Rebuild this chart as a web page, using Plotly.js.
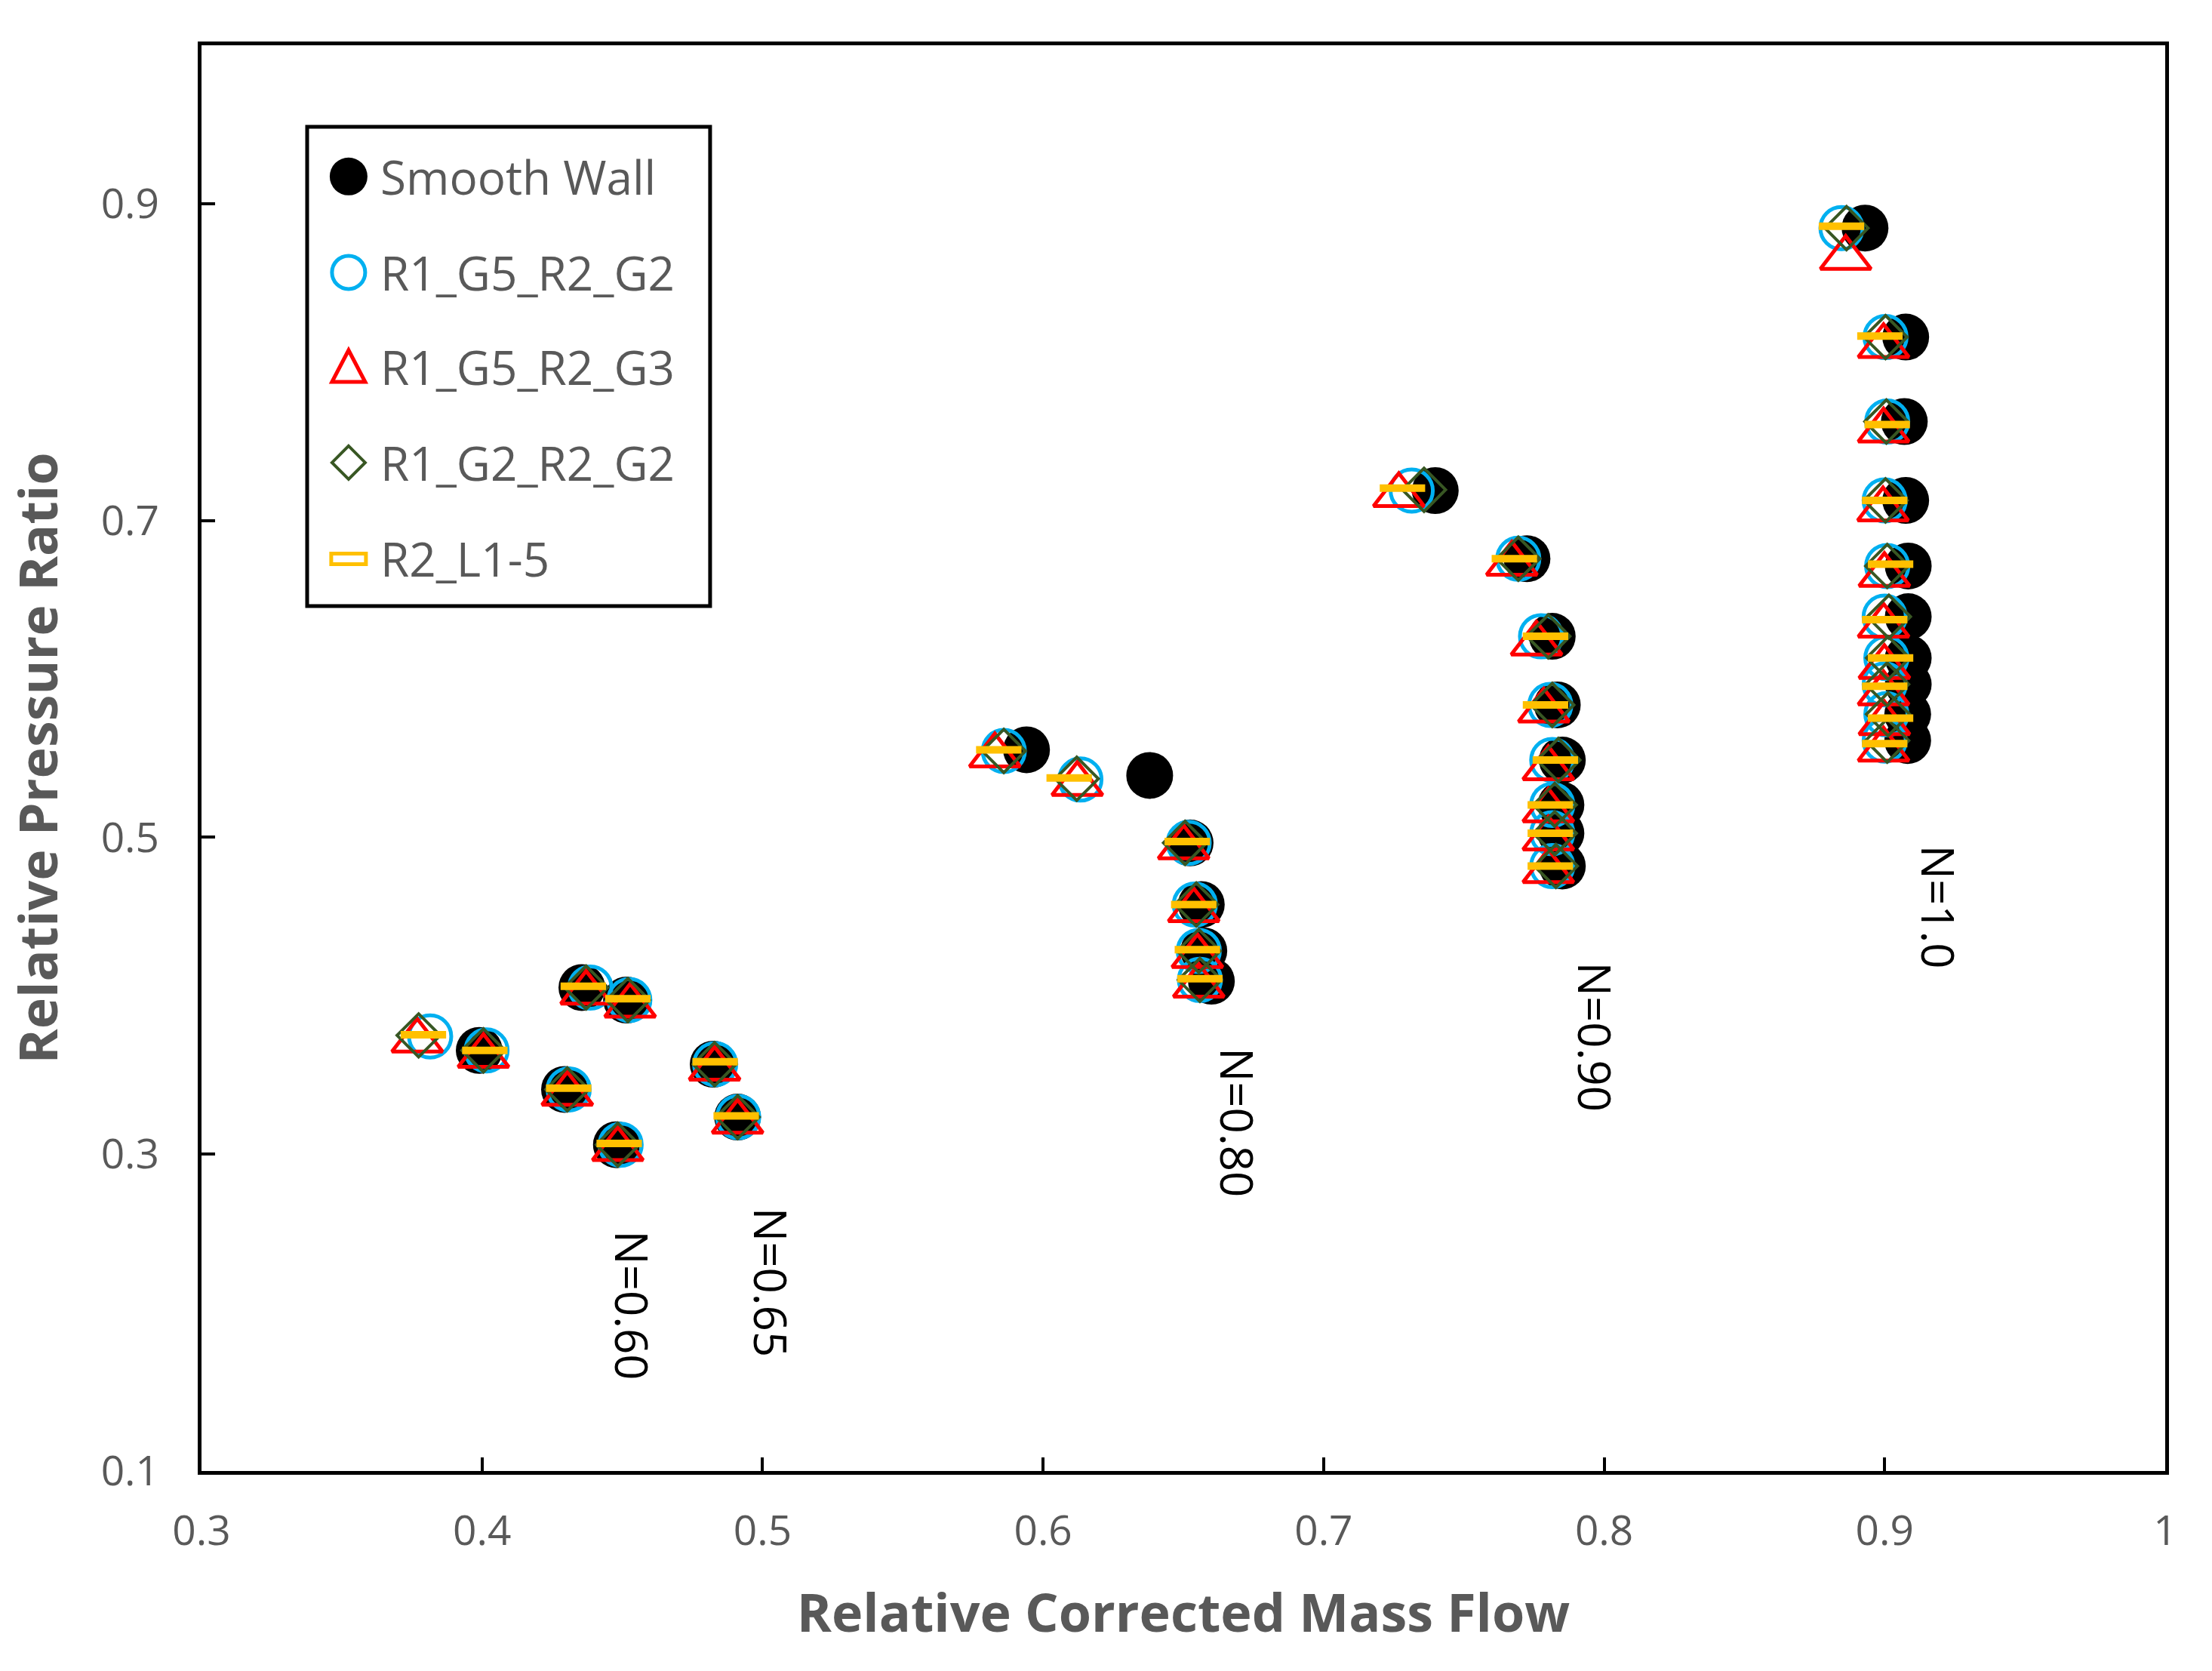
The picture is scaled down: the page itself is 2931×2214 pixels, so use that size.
<!DOCTYPE html>
<html>
<head>
<meta charset="utf-8">
<script src="https://cdn.plot.ly/plotly-3.0.1.min.js"></script>
<style>
  html, body { margin: 0; padding: 0; background: #fff; }
  #plot { width: 2931px; height: 2214px; }
</style>
</head>
<body>
<div id="plot"></div>
<script>
// series names, in drawing order (first one is at the bottom)
var seriesNames = ['Smooth Wall', 'R1_G5_R2_G2', 'R1_G5_R2_G3', 'R1_G2_R2_G2', 'R2_L1-5']

// Smooth Wall
var smoothX = [0.399, 0.4356, 0.4515, 0.4294, 0.4479, 0.4824, 0.4911,
  0.5941, 0.638, 0.6524, 0.6564, 0.6573, 0.660,
  0.7398, 0.7725, 0.7815, 0.7833, 0.7851, 0.7846, 0.7846, 0.7851,
  0.893, 0.9075, 0.907, 0.9075, 0.9084, 0.9084, 0.9084, 0.9084, 0.9082, 0.9082]
var smoothY = [0.3655, 0.4052, 0.3973, 0.3409, 0.306, 0.3568, 0.3234,
  0.5553, 0.5391, 0.4965, 0.4576, 0.4283, 0.4092,
  0.7189, 0.6759, 0.6269, 0.5836, 0.5488, 0.5205, 0.5026, 0.4819,
  0.8846, 0.8158, 0.7625, 0.7127, 0.6713, 0.6393, 0.6132, 0.5966, 0.5777, 0.5611]

// R1_G5_R2_G2
var g5g2X = [0.3815, 0.4016, 0.4386, 0.4525, 0.4309, 0.4494, 0.4831, 0.4913,
  0.586, 0.6133, 0.6519, 0.6541, 0.6555, 0.6559,
  0.7314, 0.7694, 0.7775, 0.7808, 0.7815, 0.7815, 0.7815, 0.7815,
  0.8846, 0.9003, 0.9009, 0.900, 0.9009, 0.900, 0.9006, 0.900, 0.9006, 0.900]
var g5g2Y = [0.3743, 0.3655, 0.4052, 0.3973, 0.3409, 0.306, 0.3568, 0.3234,
  0.5545, 0.5365, 0.4965, 0.4576, 0.4283, 0.410,
  0.7189, 0.6759, 0.6269, 0.5836, 0.5488, 0.5205, 0.5026, 0.4819,
  0.8846, 0.8158, 0.7625, 0.7127, 0.6713, 0.6393, 0.6132, 0.5966, 0.5777, 0.5611]

// R1_G5_R2_G3
var g5g3X = [0.3769, 0.4005, 0.4371, 0.4528, 0.4304, 0.4484, 0.4829, 0.4911,
  0.5828, 0.6122, 0.6501, 0.6537, 0.655, 0.6555,
  0.7268, 0.7671, 0.7759, 0.7785, 0.7801, 0.7801, 0.7801, 0.7801,
  0.8861, 0.8996, 0.8996, 0.8994, 0.8999, 0.8996, 0.8999, 0.8996, 0.8999, 0.8996]
var g5g3Y = [0.3717, 0.362, 0.4019, 0.3937, 0.3381, 0.3032, 0.354, 0.3205,
  0.5517, 0.5337, 0.4937, 0.454, 0.425, 0.4063,
  0.716, 0.6727, 0.6223, 0.580, 0.5436, 0.517, 0.4993, 0.4786,
  0.8658, 0.8101, 0.7568, 0.707, 0.6656, 0.6336, 0.6075, 0.5909, 0.572, 0.5554]

// R1_G2_R2_G2
var g2g2X = [0.3774, 0.4005, 0.4371, 0.452, 0.4304, 0.4484, 0.4829, 0.4911,
  0.586, 0.612, 0.6506, 0.6546, 0.6555, 0.6559,
  0.7358, 0.7694, 0.7801, 0.7815, 0.7837, 0.7824, 0.7824, 0.7828,
  0.8864, 0.9003, 0.9006, 0.9003, 0.9009, 0.9015, 0.9012, 0.9009, 0.9012, 0.9009]
var g2g2Y = [0.375, 0.3655, 0.4052, 0.3973, 0.3409, 0.306, 0.3568, 0.3234,
  0.5545, 0.537, 0.4965, 0.4576, 0.4283, 0.410,
  0.7194, 0.6759, 0.6269, 0.5836, 0.5488, 0.5205, 0.5026, 0.4819,
  0.8846, 0.8158, 0.7625, 0.7127, 0.6713, 0.6393, 0.6132, 0.5966, 0.5777, 0.5611]

// R2_L1-5
var l15X = [0.3791, 0.401, 0.4361, 0.452, 0.4309, 0.4489, 0.4831, 0.4906,
  0.5842, 0.6093, 0.6514, 0.6537, 0.655, 0.6559,
  0.7281, 0.768, 0.7791, 0.7791, 0.7826, 0.7808, 0.7808, 0.7808,
  0.8846, 0.8983, 0.9009, 0.900, 0.9021, 0.900, 0.9021, 0.900, 0.9021, 0.900]
var l15Y = [0.3754, 0.3655, 0.406, 0.3981, 0.3417, 0.3068, 0.3584, 0.3242,
  0.5553, 0.5375, 0.4973, 0.4576, 0.4291, 0.4108,
  0.7204, 0.6759, 0.6269, 0.5836, 0.5488, 0.5205, 0.5026, 0.4819,
  0.8858, 0.8165, 0.7606, 0.7127, 0.6725, 0.6374, 0.6132, 0.5954, 0.5753, 0.5592]

// speed line labels
var speedText = ['N=0.60', 'N=0.65', 'N=0.80', 'N=0.90', 'N=1.0']
var speedX = [0.4535, 0.5031, 0.6694, 0.7969, 0.9193]
var speedY = [0.2048, 0.2191, 0.320, 0.374, 0.456]

var FONT = 'Open Sans, Noto Sans, sans-serif'
var GREY = '#595959'
var BLUE = '#00B0F0', RED = '#FF0000', GREEN = '#385723', GOLD = '#FFC000'

try {
  var xData = [smoothX, g5g2X, g5g3X, g2g2X, l15X]
  var yData = [smoothY, g5g2Y, g5g3Y, g2g2Y, l15Y]
  var markers = [
    {symbol: 'circle', size: 62, color: '#000000', line: {width: 0}},
    {symbol: 'circle-open', size: 56, color: BLUE, line: {width: 5, color: BLUE}},
    {symbol: 'triangle-up-open', size: 58, color: RED, line: {width: 5, color: RED}},
    {symbol: 'diamond-open', size: 44, color: GREEN, line: {width: 4, color: GREEN}},
    {symbol: 'line-ew-open', size: 43, color: GOLD, line: {width: 10, color: GOLD}}
  ]

  var data = []
  for (var i = 0; i < seriesNames.length; i++) {
    data.push({
      x: xData[i],
      y: yData[i],
      name: seriesNames[i],
      type: 'scatter',
      mode: 'markers',
      marker: markers[i],
      showlegend: false,
      cliponaxis: false
    })
  }

  // hand made legend box, so the symbols keep their size
  var legX0 = 0.0538, legX1 = 0.259, legY0 = 0.6067, legY1 = 0.9428
  var rowY = [0.908, 0.8407, 0.7745, 0.7073, 0.6398]
  var symX = 0.0749, textX = 0.0902

  var shapes = [{
    type: 'rect', xref: 'paper', yref: 'paper',
    x0: legX0, x1: legX1, y0: legY0, y1: legY1,
    line: {color: '#000', width: 5}, fillcolor: '#fff', layer: 'below'
  }]
  function pix(type, y, extra) {
    var s = {type: type, xref: 'paper', yref: 'paper',
      xsizemode: 'pixel', ysizemode: 'pixel', xanchor: symX, yanchor: y}
    for (var k in extra) s[k] = extra[k]
    return s
  }
  shapes.push(pix('circle', rowY[0], {x0: -25, x1: 25, y0: -25, y1: 25,
    fillcolor: '#000', line: {width: 0}}))
  shapes.push(pix('circle', rowY[1], {x0: -22, x1: 22, y0: -22, y1: 22,
    line: {color: BLUE, width: 5}}))
  shapes.push(pix('path', rowY[2], {path: 'M -22 -20 L 22 -20 L 0 22 Z',
    line: {color: RED, width: 5}}))
  shapes.push(pix('path', rowY[3], {path: 'M 0 22 L 22 0 L 0 -22 L -22 0 Z',
    line: {color: GREEN, width: 4}}))
  shapes.push(pix('rect', rowY[4], {x0: -23, x1: 23, y0: -7, y1: 7,
    line: {color: GOLD, width: 5}}))

  var annotations = []
  for (var j = 0; j < seriesNames.length; j++) {
    annotations.push({
      xref: 'paper', yref: 'paper', x: textX, y: rowY[j],
      xanchor: 'left', yanchor: 'middle', showarrow: false,
      text: seriesNames[j], font: {family: FONT, size: 62, color: GREY}
    })
  }
  for (var n = 0; n < speedText.length; n++) {
    annotations.push({
      x: speedX[n], y: speedY[n], xref: 'x', yref: 'y',
      text: speedText[n], textangle: 90, showarrow: false,
      font: {family: FONT, size: 60, color: '#000'}
    })
  }

  var layout = {
    width: 2931,
    height: 2214,
    margin: {l: 267, r: 62, t: 60, b: 265},
    paper_bgcolor: '#fff',
    plot_bgcolor: '#fff',
    showlegend: false,
    xaxis: {
      range: [0.3, 1.0], tick0: 0.3, dtick: 0.1,
      showgrid: false, zeroline: false,
      showline: true, linecolor: '#000', linewidth: 5, mirror: true,
      ticks: 'inside', ticklen: 18, tickwidth: 4, tickcolor: '#000',
      ticklabelstandoff: 27,
      tickfont: {family: FONT, size: 55, color: GREY},
      title: {text: 'Relative Corrected Mass Flow', standoff: 52,
        font: {family: FONT, size: 70, color: GREY, weight: 'bold'}}
    },
    yaxis: {
      range: [0.1, 1.0], tick0: 0.1, dtick: 0.2,
      showgrid: false, zeroline: false,
      showline: true, linecolor: '#000', linewidth: 5, mirror: true,
      ticks: 'inside', ticklen: 18, tickwidth: 4, tickcolor: '#000',
      ticklabelstandoff: 40,
      tickfont: {family: FONT, size: 55, color: GREY},
      title: {text: 'Relative Pressure Ratio', standoff: 36,
        font: {family: FONT, size: 70, color: GREY, weight: 'bold'}}
    },
    shapes: shapes,
    annotations: annotations
  }

  Plotly.newPlot('plot', data, layout, {displayModeBar: false, staticPlot: true})
}
catch (err) {
  console.error(err)
}
</script>
</body>
</html>
